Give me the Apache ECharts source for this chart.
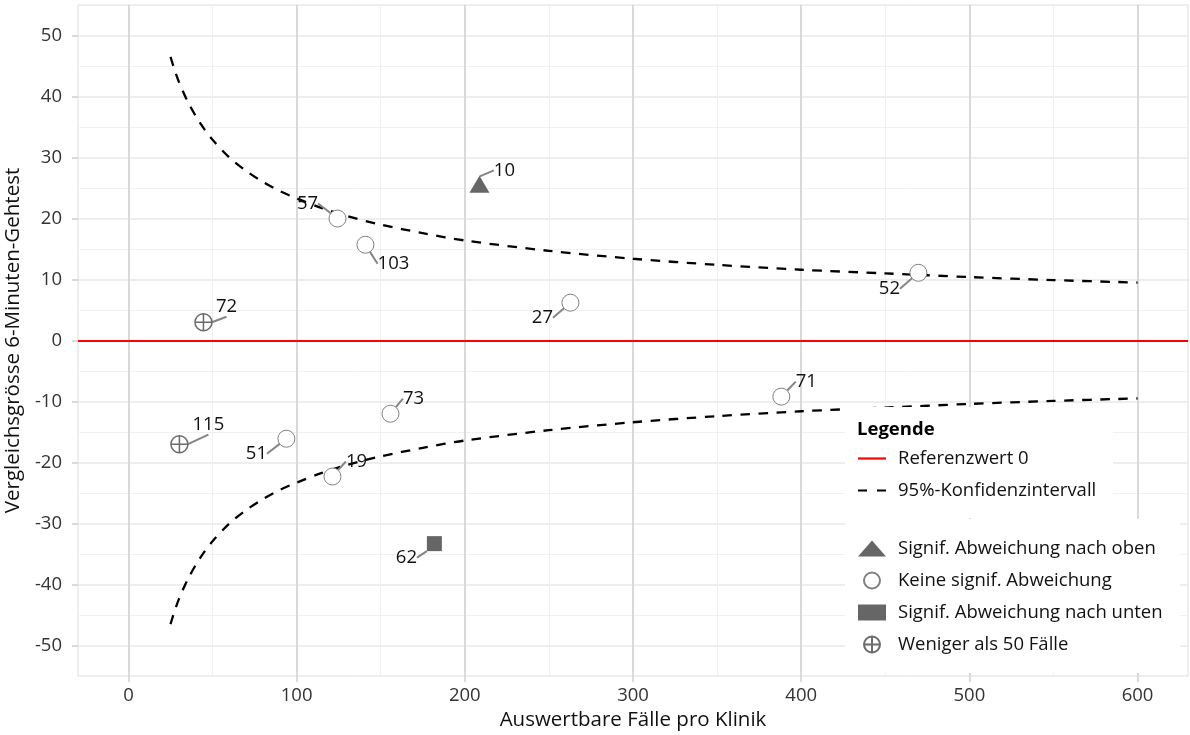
<!DOCTYPE html>
<html>
<head>
<meta charset="utf-8">
<script src="https://cdn.jsdelivr.net/npm/echarts@6/dist/echarts.min.js"></script>
<style>
html,body{margin:0;padding:0;background:#fff;}
#chart{width:1190px;height:735px;}
</style>
</head>
<body>
<div id="chart"></div>
<script>
// ---- data ----
const xTickValues = [0, 100, 200, 300, 400, 500, 600];
const yTickValues = [-50, -40, -30, -20, -10, 0, 10, 20, 30, 40, 50];

const referenceValue = 0;

const ciCases = [25, 27.5, 30, 35, 40, 45, 50, 60, 70, 80, 90, 100, 115, 130, 150, 175, 200, 250, 300, 350, 400, 450, 500, 550, 600];
const ciUpper = [46.5, 44.3, 42.4, 39.3, 36.8, 34.7, 32.9, 30.0, 27.8, 26.0, 24.5, 23.3, 21.7, 20.4, 19.0, 17.6, 16.4, 14.7, 13.4, 12.4, 11.6, 11.0, 10.4, 9.9, 9.5];
const ciLower = [-46.5, -44.3, -42.4, -39.3, -36.8, -34.7, -32.9, -30.0, -27.8, -26.0, -24.5, -23.3, -21.7, -20.4, -19.0, -17.6, -16.4, -14.7, -13.4, -12.4, -11.6, -11.0, -10.4, -9.9, -9.5];

const clinicIds    = ['10', '57', '103', '27', '52', '72', '115', '51', '73', '19', '71', '62'];
const clinicCases  = [208.7, 124.3, 140.9, 262.8, 469.7, 44.6, 30.3, 93.9, 155.8, 121.3, 388.2, 181.9];
const clinicValues = [25.6, 20.0, 15.7, 6.2, 11.1, 3.0, -17.0, -16.1, -12.0, -22.3, -9.2, -33.3];
const clinicGroups = ['oben', 'keine', 'keine', 'keine', 'keine', 'wenig', 'wenig', 'keine', 'keine', 'keine', 'keine', 'unten'];

const groupKeys  = ['oben', 'keine', 'unten', 'wenig'];
const groupNames = ['Signif. Abweichung nach oben', 'Keine signif. Abweichung', 'Signif. Abweichung nach unten', 'Weniger als 50 Fälle'];
const refName = 'Referenzwert 0';
const ciName = '95%-Konfidenzintervall';

// ---- layout / style (not data) ----
const labelOffsets = {
  '10': [25, -14], '57': [-30, -15], '103': [28, 19], '27': [-28, 15], '52': [-29, 16],
  '72': [23, -15], '115': [29, -19], '51': [-30, 15], '73': [23, -15], '19': [24, -15],
  '71': [25, -15], '62': [-28, 14]
};
const FONT = 'Open Sans';
const TXT = 18.5;
const crossCircle = 'path://M1,9a8,8 0 1,0 16,0a8,8 0 1,0 -16,0M9,1V17M1,9H17';
const groupStyles = {
  oben:  { symbol: 'triangle', symbolSize: [20, 17], itemStyle: { color: '#666666', opacity: 1 } },
  keine: { symbol: 'circle', symbolSize: 17, itemStyle: { color: '#ffffff', borderColor: '#808080', borderWidth: 1, opacity: 1 } },
  unten: { symbol: 'rect', symbolSize: 15, itemStyle: { color: '#666666', opacity: 1 } },
  wenig: { symbol: crossCircle, symbolSize: 17, itemStyle: { color: 'rgba(0,0,0,0)', borderColor: '#6b6b6b', borderWidth: 1.5, opacity: 1 } }
};

const ciUpperData = ciCases.map((c, i) => [c, ciUpper[i]]);
const ciLowerData = ciCases.map((c, i) => [c, ciLower[i]]);

const scatterSeries = groupKeys.map((g, gi) => {
  const data = [];
  clinicIds.forEach((id, i) => {
    if (clinicGroups[i] === g) data.push({ name: id, value: [clinicCases[i], clinicValues[i]] });
  });
  const st = groupStyles[g];
  return {
    type: 'scatter',
    name: groupNames[gi],
    data: data,
    symbol: st.symbol,
    symbolSize: st.symbolSize,
    itemStyle: st.itemStyle,
    z: 3,
    label: {
      show: true, position: 'inside', formatter: '{b}',
      fontFamily: FONT, fontSize: TXT, color: '#111'
    },
    labelLine: { show: true, lineStyle: { color: '#858585', width: 2, opacity: 1 } },
    labelLayout: function (p) {
      const o = labelOffsets[p.text] || [0, 0];
      return { dx: o[0], dy: o[1] };
    },
    emphasis: { disabled: true }
  };
});

const ciStyle = { color: '#000', width: 2.3, type: [9.5, 8.5] };

const option = {
  animation: false,
  backgroundColor: '#fff',
  textStyle: { fontFamily: FONT },
  grid: {
    left: 78, right: 2, top: 5, bottom: 59,
    containLabel: false, outerBoundsMode: 'none',
    show: true, backgroundColor: '#fff', borderColor: '#dedede', borderWidth: 1
  },
  xAxis: {
    type: 'value', min: -30, max: 630, splitNumber: 5,
    name: 'Auswertbare Fälle pro Klinik', nameLocation: 'middle', nameGap: 32,
    nameTextStyle: { fontFamily: FONT, fontSize: 20.5, color: '#111' },
    axisLine: { show: false, onZero: false },
    axisTick: { show: true, length: 6, customValues: xTickValues, lineStyle: { color: '#cfcfcf', width: 1.5 } },
    axisLabel: { customValues: xTickValues, margin: 10, fontFamily: FONT, fontSize: TXT, color: '#333' },
    splitLine: { show: true, showMinLine: true, showMaxLine: true, lineStyle: { color: '#d9d9d9', width: 2 } },
    minorTick: { show: false, splitNumber: 2 },
    minorSplitLine: { show: true, lineStyle: { color: '#efefef', width: 1 } }
  },
  yAxis: {
    type: 'value', min: -55, max: 55, splitNumber: 11,
    name: 'Vergleichsgrösse 6-Minuten-Gehtest', nameLocation: 'middle', nameGap: 48,
    nameTextStyle: { fontFamily: FONT, fontSize: 20.5, color: '#111' },
    axisLine: { show: false, onZero: false },
    axisTick: { show: true, length: 6, customValues: yTickValues, lineStyle: { color: '#cfcfcf', width: 1.5 } },
    axisLabel: { customValues: yTickValues, margin: 16, fontFamily: FONT, fontSize: TXT, color: '#333' },
    splitLine: { show: true, showMinLine: true, showMaxLine: true, lineStyle: { color: '#e9e9e9', width: 1.5 } },
    minorTick: { show: false, splitNumber: 2 },
    minorSplitLine: { show: true, lineStyle: { color: '#f1f1f1', width: 1 } }
  },
  legend: [
    {
      data: [
        { name: refName, icon: 'path://M0,0H28V2.2H0Z', itemStyle: { color: '#ff0000' } },
        { name: ciName, icon: 'path://M0,0H9V2.2H0ZM19,0H28V2.2H19Z', itemStyle: { color: '#000000' } }
      ],
      orient: 'vertical', left: 858, top: 449, padding: 0,
      itemWidth: 28, itemHeight: 18, itemGap: 13,
      textStyle: { fontFamily: FONT, fontSize: TXT, lineHeight: 18, color: '#111', padding: [0, 0, 0, 7] },
      selectedMode: false, z: 6
    },
    {
      data: groupNames,
      orient: 'vertical', left: 858, top: 539, padding: 0,
      itemWidth: 28, itemHeight: 16, itemGap: 13,
      textStyle: { fontFamily: FONT, fontSize: TXT, lineHeight: 18, color: '#111', padding: [0, 0, 0, 7] },
      selectedMode: false, z: 6
    }
  ],
  graphic: [
    { type: 'rect', z: 5, silent: true, shape: { x: 845, y: 407, width: 268, height: 111 }, style: { fill: '#fff' } },
    { type: 'rect', z: 5, silent: true, shape: { x: 845, y: 519, width: 335, height: 154 }, style: { fill: '#fff' } },
    { type: 'text', z: 7, silent: true, left: 857, top: 420,
      style: { text: 'Legende', fontFamily: FONT, fontSize: TXT, fontWeight: 'bold', fill: '#000' } }
  ],
  series: [
    {
      type: 'line', name: refName, data: [], symbol: 'none',
      itemStyle: { color: '#ff0000' }, lineStyle: { color: '#ff0000', width: 2 },
      markLine: {
        silent: true, symbol: 'none', label: { show: false },
        lineStyle: { color: '#ff0000', width: 2, type: 'solid' },
        data: [{ yAxis: referenceValue }]
      },
      z: 2
    },
    {
      type: 'line', name: ciName, data: ciUpperData, symbol: 'none', smooth: 0.3,
      itemStyle: { color: '#000' }, lineStyle: ciStyle, z: 2
    },
    {
      type: 'line', name: ciName, data: ciLowerData, symbol: 'none', smooth: 0.3,
      itemStyle: { color: '#000' }, lineStyle: ciStyle, z: 2
    }
  ].concat(scatterSeries)
};

const chart = echarts.init(document.getElementById('chart'), null, { renderer: 'canvas' });
chart.setOption(option);
</script>
</body>
</html>
